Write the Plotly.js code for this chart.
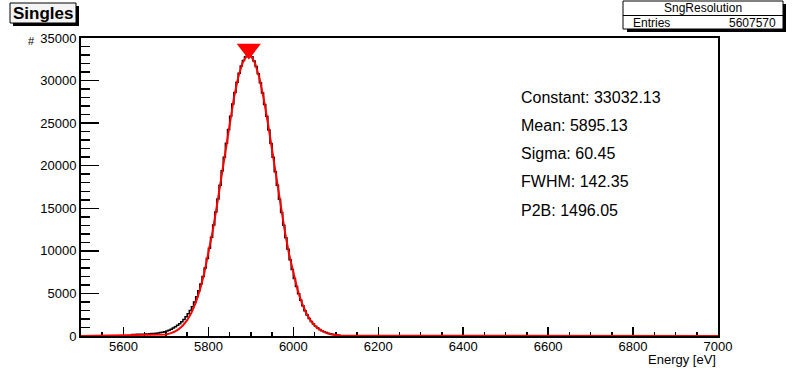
<!DOCTYPE html>
<html>
<head>
<meta charset="utf-8">
<script src="https://cdn.plot.ly/plotly-3.0.1.min.js"></script>
<style>
html, body { margin: 0; padding: 0; background: #fff; }
#plot { width: 800px; height: 374px; }
</style>
</head>
<body>
<div id="plot"></div>
<script>
// histogram: 5 eV bins starting at 5620 eV
const binStart = 5620;
const binWidth = 5;
const counts = [
  180, 190, 200, 200, 210, 220, 230, 240, 260, 280,
  300, 330, 360, 400, 450, 500, 580, 680, 800, 930,
  1080, 1250, 1450, 1680, 1950, 2250, 2600, 3000, 3450, 4000,
  4600, 5300, 6100, 7000, 8000, 9100, 10300, 11600, 13050, 14550,
  16100, 17700, 19400, 21000, 22650, 24250, 25800, 27250, 28600, 29800,
  30850, 31700, 32350, 32800, 33050, 32950, 32800, 32300, 31650, 30800,
  29750, 28550, 27200, 25800, 24200, 22600, 21000, 19300, 17700, 16050,
  14500, 13000, 11550, 10200, 8950, 7800, 6750, 5800, 4950, 4200,
  3550, 2980, 2480, 2060, 1700, 1400, 1150, 940, 770, 630,
  510, 410, 330, 260, 200, 150, 110, 80
];

// gaussian fit curve (red)
const fitX = [5500, 5690, 5700, 5710, 5720, 5730, 5740, 5750, 5760, 5770, 5780, 5790,
  5800, 5810, 5820, 5830, 5840, 5850, 5860, 5870, 5880, 5890, 5895, 5900,
  5910, 5920, 5930, 5940, 5950, 5960, 5970, 5980, 5990, 6000, 6010, 6020,
  6030, 6040, 6050, 6060, 6070, 6080, 6090, 6100, 6110, 7000];
const fitY = [0, 105, 182, 306, 500, 796, 1235, 1860, 2729, 3895, 5411, 7307,
  9606, 12291, 15294, 18531, 21834, 25042, 27935, 30323, 32031, 32919, 33032, 32919,
  32031, 30323, 27935, 25042, 21834, 18531, 15294, 12291, 9606, 7307, 5411, 3895,
  2729, 1860, 1235, 796, 500, 306, 182, 105, 58, 0];

const peakX = [5895.13];
const peakY = [33700];

const fitLabels = ["Constant: 33032.13", "Mean: 5895.13", "Sigma: 60.45", "FWHM: 142.35", "P2B: 1496.05"];

const histName = "SngResolution";
const entries = "5607570";

// step outline from bin edges
let edges = [];
let stepY = [];
for (let i = 0; i < counts.length; i++) {
  edges.push(binStart + i * binWidth);
  stepY.push(counts[i]);
}
edges.push(binStart + counts.length * binWidth);
stepY.push(counts[counts.length - 1]);
edges = [edges[0]].concat(edges, [edges[edges.length - 1]]);
stepY = [0].concat(stepY, [0]);

// pixel -> paper helpers (plot area 81..718 x 38..336)
const L = 81, R = 718, T = 38, B = 336;
function px(x) { return (x - L) / (R - L); }
function py(y) { return (B - y) / (B - T); }

const font = "Liberation Sans, Arial, Helvetica, sans-serif";

let traces = [
  {
    x: edges, y: stepY, type: "scatter", mode: "lines",
    line: { shape: "hv", color: "#000", width: 1.5 },
    hoverinfo: "skip"
  },
  {
    x: fitX, y: fitY, type: "scatter", mode: "lines",
    line: { color: "#ff0000", width: 2 },
    hoverinfo: "skip"
  },
  {
    x: peakX, y: peakY, type: "scatter", mode: "markers",
    marker: { symbol: "triangle-down", size: 21, color: "#ff0000" },
    cliponaxis: false,
    hoverinfo: "skip"
  }
];

let annotations = [];
fitLabels.forEach(function (t, i) {
  annotations.push({
    xref: "paper", yref: "paper", x: px(519), y: py(97 + i * 28.3),
    xanchor: "left", yanchor: "middle", showarrow: false,
    text: t, font: { family: font, size: 16, color: "#000" }
  });
});
annotations.push(
  { xref: "paper", yref: "paper", x: px(43), y: py(13), xanchor: "center", yanchor: "middle",
    showarrow: false, text: "<b>Singles</b>", font: { family: font, size: 17, color: "#000" } },
  { xref: "paper", yref: "paper", x: px(703), y: py(8), xanchor: "center", yanchor: "middle",
    showarrow: false, text: histName, font: { family: font, size: 12, color: "#000" } },
  { xref: "paper", yref: "paper", x: px(631), y: py(22.5), xanchor: "left", yanchor: "middle",
    showarrow: false, text: "Entries", font: { family: font, size: 12, color: "#000" } },
  { xref: "paper", yref: "paper", x: px(778), y: py(22.5), xanchor: "right", yanchor: "middle",
    showarrow: false, text: entries, font: { family: font, size: 12, color: "#000" } },
  { xref: "paper", yref: "paper", x: px(718), y: py(359.5), xanchor: "right", yanchor: "middle",
    showarrow: false, text: "Energy [eV]", font: { family: font, size: 13, color: "#000" } },
  { xref: "paper", yref: "paper", x: px(31), y: py(41), xanchor: "center", yanchor: "middle",
    showarrow: false, text: "#", font: { family: font, size: 11, color: "#000" } }
);

function box(x0, y0, x1, y1, fill, lw) {
  return { type: "rect", xref: "paper", yref: "paper", layer: "above",
    x0: px(x0), x1: px(x1), y0: py(y1), y1: py(y0),
    fillcolor: fill, line: { color: "#000", width: lw } };
}

let shapes = [
  // title box + shadow
  box(13, 6, 79, 26, "#000", 0),
  box(10, 3, 76, 23, "#f4f4f4", 1),
  // stats box + shadow
  box(627, 4, 786, 32, "#000", 0),
  box(623, 1, 783, 29, "#ffffff", 1),
  { type: "line", xref: "paper", yref: "paper", layer: "above",
    x0: px(623), x1: px(783), y0: py(15.5), y1: py(15.5), line: { color: "#000", width: 1 } }
];

const layout = {
  width: 800, height: 374,
  margin: { l: L, r: 800 - R, t: T, b: 374 - B, pad: 0 },
  paper_bgcolor: "#fff", plot_bgcolor: "#fff",
  showlegend: false,
  font: { family: font, size: 13, color: "#000" },
  xaxis: {
    range: [5500, 7000], tick0: 5600, dtick: 200,
    ticks: "inside", ticklen: 9, tickwidth: 1.5, tickcolor: "#000",
    ticklabelstandoff: -3,
    minor: { dtick: 50, ticks: "inside", ticklen: 4.5, tickwidth: 1.5, tickcolor: "#000" },
    showline: true, linecolor: "#000", linewidth: 2, mirror: true,
    showgrid: false, zeroline: false, layer: "below traces",
    tickfont: { family: font, size: 13, color: "#000" }
  },
  yaxis: {
    range: [0, 35000], dtick: 5000, tickformat: "d",
    ticks: "inside", ticklen: 18, tickwidth: 1.5, tickcolor: "#000",
    minor: { dtick: 1000, ticks: "inside", ticklen: 9, tickwidth: 1.5, tickcolor: "#000" },
    showline: true, linecolor: "#000", linewidth: 2, mirror: true,
    showgrid: false, zeroline: false, layer: "below traces",
    tickfont: { family: font, size: 13, color: "#000" }
  },
  annotations: annotations,
  shapes: shapes
};

Plotly.newPlot("plot", traces, layout, { staticPlot: true });
</script>
</body>
</html>
